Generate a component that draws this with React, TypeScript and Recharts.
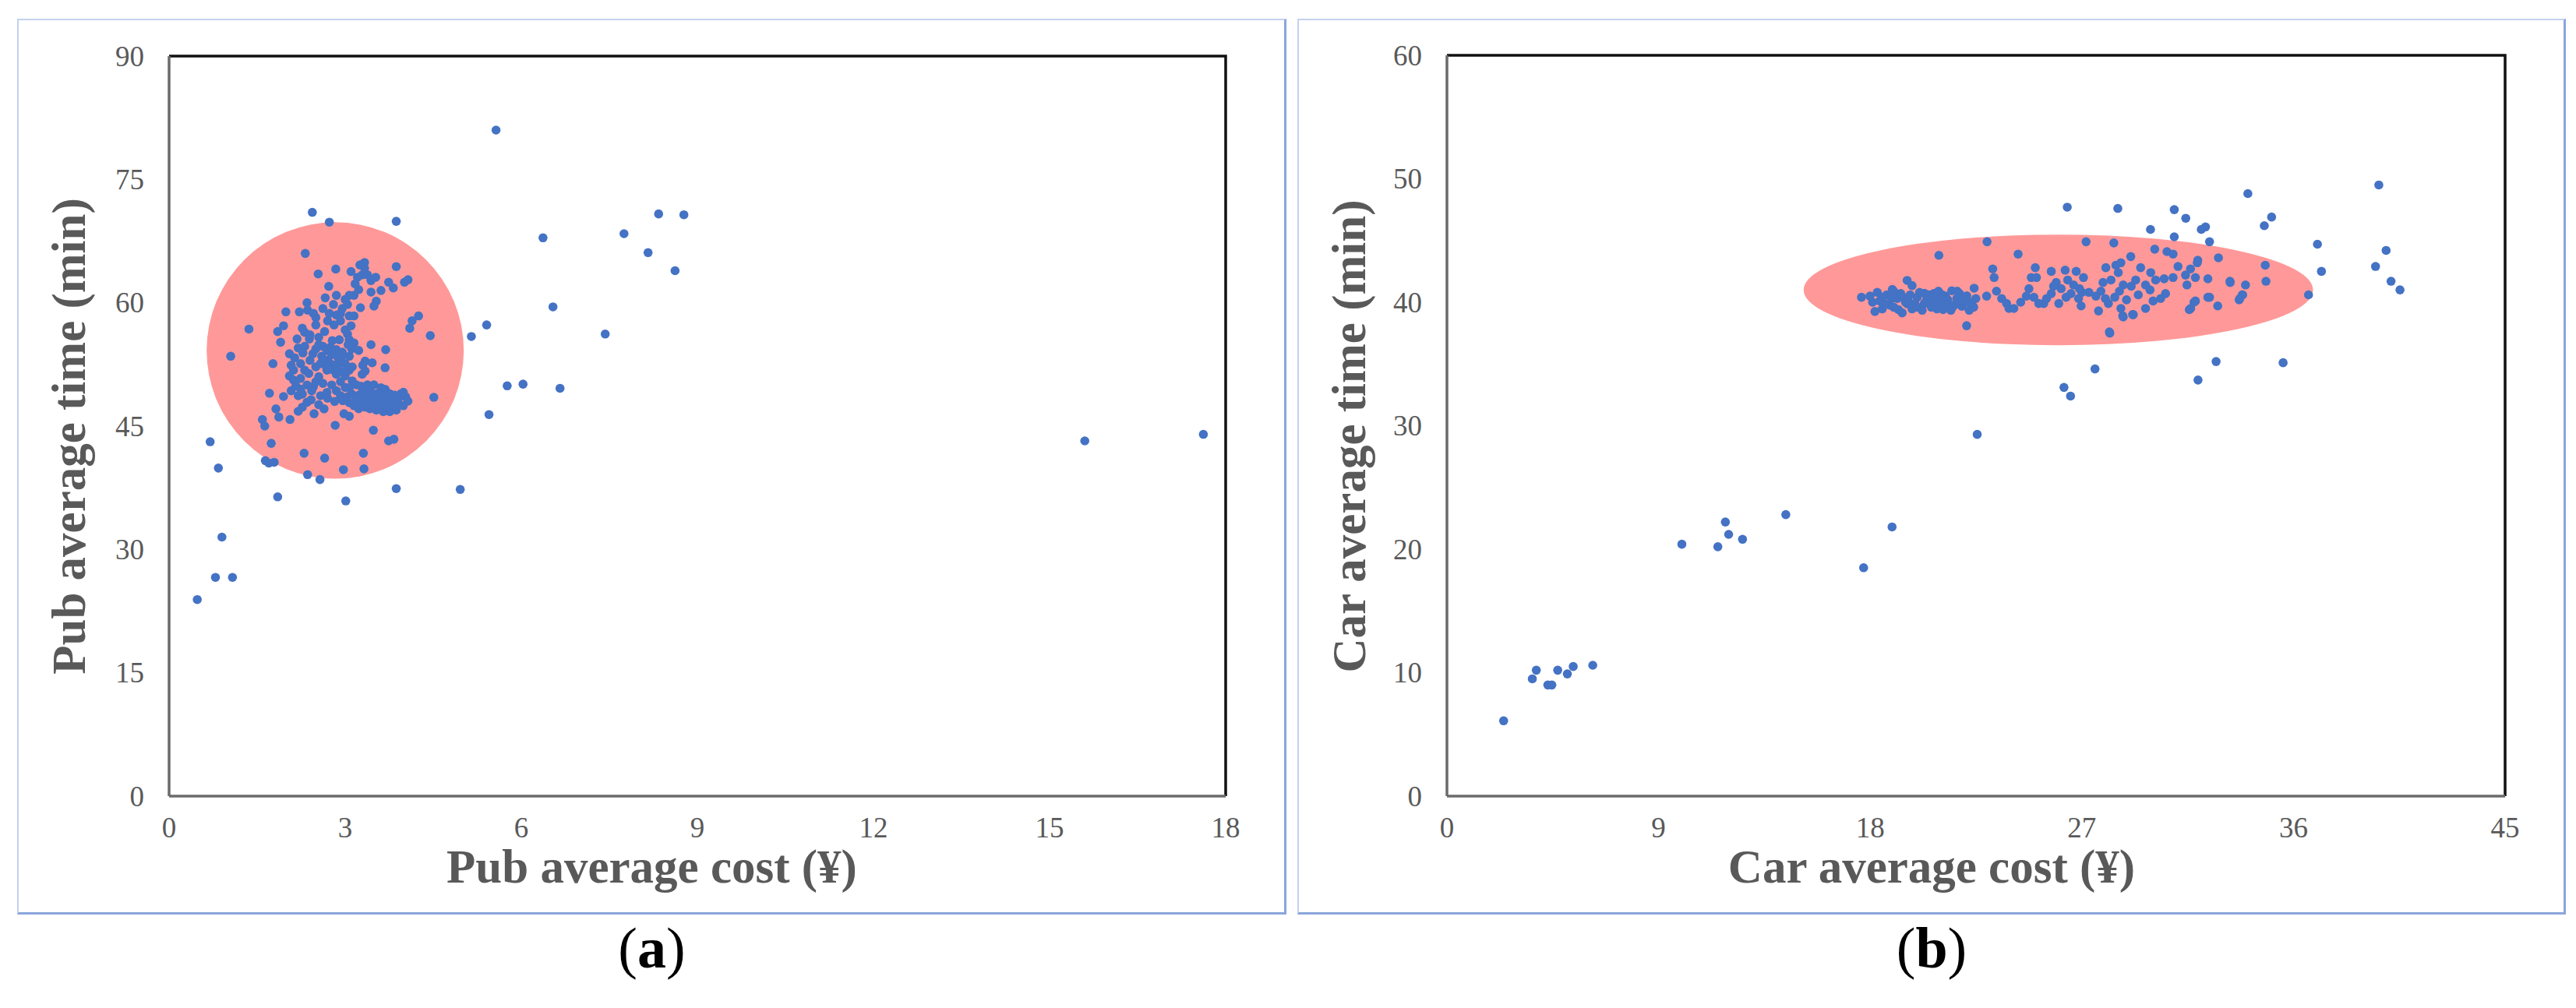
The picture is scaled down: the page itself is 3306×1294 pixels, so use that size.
import React from "react";
import { ScatterChart, Scatter, XAxis, YAxis, ReferenceArea } from "recharts";

// Values (cost in yuan, time in minutes).

const pubCostTicks = [0, 3, 6, 9, 12, 15, 18];
const pubTimeTicks = [0, 15, 30, 45, 60, 75, 90];
const carCostTicks = [0, 9, 18, 27, 36, 45];
const carTimeTicks = [0, 10, 20, 30, 40, 50, 60];

// (a) public transport
const pubOutliers: [number, number][] = [
  [5.57, 81.0], [2.44, 71.0], [2.73, 69.8], [3.87, 69.9], [8.34, 70.8], [8.77, 70.7],
  [6.37, 67.9], [7.75, 68.4], [8.16, 66.1], [8.62, 63.9], [6.54, 59.5], [5.41, 57.3],
  [5.15, 55.9], [7.43, 56.2], [5.76, 49.9], [6.03, 50.1], [6.66, 49.6], [5.45, 46.4],
  [4.51, 48.5], [4.45, 56.0], [0.7, 43.1], [0.84, 39.9], [0.9, 31.5], [0.79, 26.6],
  [1.08, 26.6], [0.48, 23.9], [1.85, 36.4], [3.01, 35.9], [3.87, 37.4], [4.96, 37.3],
  [15.6, 43.2], [17.62, 44.0],
];

const pubEdge: [number, number][] = [
  [4.25, 58.4], [4.14, 57.8], [4.1, 56.9], [1.05, 53.5], [1.36, 56.8], [1.77, 52.6],
  [1.74, 42.9], [1.59, 45.8], [1.63, 45.0], [1.71, 49.0], [1.82, 47.1], [1.87, 46.1],
  [2.06, 45.8], [1.95, 48.6], [1.64, 40.8], [1.7, 40.5], [1.79, 40.6], [2.3, 41.7],
  [2.65, 41.1], [3.31, 41.7], [2.36, 39.1], [2.57, 38.5], [2.97, 39.7], [3.32, 39.8],
  [2.83, 45.1], [3.48, 44.5], [3.74, 43.2], [3.83, 43.4], [2.32, 66.0], [2.54, 63.5],
  [2.84, 64.1], [2.72, 62.0], [3.87, 64.4],
];

const pubCore: [number, number][] = [
  [3.33, 64.9], [3.33, 64.2], [3.29, 63.4], [3.21, 63.1], [3.17, 62.3], [3.23, 61.6],
  [3.15, 60.9], [3.52, 63.1], [3.44, 62.7], [3.74, 62.5], [3.82, 61.8], [4.01, 62.5],
  [4.07, 62.8], [3.61, 61.5], [3.44, 61.3], [3.53, 60.2], [3.49, 59.6], [2.85, 60.9],
  [2.66, 60.6], [3.0, 60.4], [3.07, 60.9], [3.04, 59.8], [3.26, 59.4], [2.35, 60.0],
  [2.36, 59.1], [2.22, 58.9], [1.99, 58.9], [2.5, 58.2], [2.46, 58.7], [2.73, 58.7],
  [2.85, 58.5], [2.92, 58.7], [3.07, 58.4], [3.15, 58.4], [2.81, 57.3], [2.92, 57.8],
  [3.0, 56.7], [3.04, 56.2], [2.27, 56.9], [2.31, 56.4], [1.95, 57.2], [1.85, 56.5],
  [1.9, 55.2], [2.39, 55.6], [3.07, 55.5], [3.15, 55.1], [3.11, 54.4], [3.44, 54.9],
  [3.69, 54.3], [2.2, 54.5], [2.31, 54.7], [2.5, 54.4], [2.62, 54.7], [2.69, 54.2],
  [2.77, 53.7], [2.88, 53.3], [2.92, 52.9], [2.73, 52.7], [2.81, 52.4], [3.0, 52.6],
  [3.07, 53.5], [3.23, 54.2], [3.34, 52.9], [3.46, 52.7], [3.3, 52.4], [3.68, 52.1],
  [2.14, 53.3], [2.08, 52.4], [2.12, 51.8], [2.05, 51.1], [2.24, 52.6], [2.31, 51.8],
  [2.5, 52.2], [2.69, 51.8], [2.85, 51.3], [3.0, 51.1], [3.07, 51.8], [3.29, 51.3],
  [3.34, 51.7], [2.12, 50.6], [2.24, 50.8], [2.35, 50.0], [2.46, 49.8], [2.5, 50.4],
  [2.77, 50.0], [2.92, 50.4], [3.0, 49.7], [2.08, 49.3], [2.2, 48.7], [2.24, 49.5],
  [2.27, 48.9], [2.43, 49.3], [2.58, 48.7], [2.69, 49.1], [2.85, 49.3], [2.92, 48.7],
  [2.64, 47.1], [2.27, 47.3], [2.35, 47.9], [2.98, 46.5], [3.07, 46.2], [2.6, 53.5],
  [2.7, 53.0], [2.95, 54.0], [2.55, 55.8], [2.65, 56.5], [2.9, 55.5], [3.1, 57.2],
  [2.4, 53.0], [2.55, 51.0], [2.8, 51.8], [2.45, 53.8], [2.55, 54.9], [2.62, 53.1],
  [2.75, 54.6], [2.85, 54.3], [2.95, 53.6], [3.05, 54.9], [2.78, 55.4], [2.68, 52.2],
  [2.58, 52.6], [2.88, 52.0], [2.98, 51.6], [3.12, 52.2], [2.5, 57.3], [2.7, 57.8],
  [2.62, 59.3], [2.95, 59.3], [2.8, 59.8], [3.1, 63.8], [3.25, 64.6], [3.38, 63.4],
  [2.4, 56.1], [2.18, 55.6], [2.28, 53.9], [2.38, 51.4], [2.62, 50.2], [2.7, 48.4],
  [2.82, 48.0], [2.96, 48.1], [3.12, 50.5], [2.05, 53.8], [2.16, 49.9], [2.42, 48.2],
  [2.55, 47.6], [2.47, 46.5], [2.2, 46.8],
];

// the dense clump right-below the centre of the circle
const pubClump: [number, number][] = [
  [3.07, 49.66], [3.19, 50.02], [3.27, 49.84], [3.38, 50.02], [3.49, 50.02], [3.61, 49.66],
  [3.68, 49.48], [3.76, 48.93], [3.84, 48.75], [3.95, 48.93], [3.99, 49.11], [4.03, 48.57],
  [4.07, 48.03], [3.99, 47.48], [3.87, 46.94], [3.76, 46.76], [3.65, 46.76], [3.53, 46.94],
  [3.42, 47.12], [3.34, 47.3], [3.23, 47.12], [3.15, 47.48], [3.07, 47.85], [3.04, 48.57],
  [3.11, 48.93], [3.23, 48.75], [3.34, 48.57], [3.46, 48.39], [3.57, 48.21], [3.68, 48.03],
  [3.8, 47.85], [3.91, 47.66], [3.27, 48.03], [3.38, 47.85], [3.49, 47.66], [3.61, 47.48],
  [3.72, 47.3], [3.84, 47.3], [3.19, 48.21], [3.42, 49.3], [3.53, 48.93], [3.65, 48.75],
  [3.78, 48.39], [3.9, 48.21], [3.3, 49.3],
];

// (b) car
const carLow: [number, number][] = [
  [2.41, 6.1], [3.63, 9.5], [3.8, 10.2], [4.29, 9.0], [4.46, 9.0], [4.71, 10.2],
  [5.12, 9.9], [5.37, 10.5], [6.2, 10.6],
];

const carMid: [number, number][] = [
  [9.99, 20.4], [11.52, 20.2], [11.84, 22.2], [11.98, 21.2], [12.57, 20.8], [14.41, 22.8],
  [17.72, 18.5], [18.93, 21.8], [22.55, 29.3], [26.24, 33.1], [26.52, 32.4], [27.56, 34.6],
  [31.94, 33.7], [32.71, 35.2], [35.56, 35.1],
];

const carUpper: [number, number][] = [
  [36.64, 40.6], [37.02, 44.7], [37.19, 42.5], [39.63, 49.5], [39.49, 42.9], [39.94, 44.2],
  [40.15, 41.7], [40.53, 41.0], [34.06, 48.8], [34.76, 46.2], [35.07, 46.9], [34.8, 43.0],
  [34.83, 41.7], [26.38, 47.7], [28.53, 47.6], [30.93, 47.5], [31.42, 46.8], [29.92, 45.9],
  [30.93, 45.3], [32.08, 45.9], [32.26, 46.1], [32.43, 44.9], [22.97, 44.9], [27.18, 44.9],
  [28.36, 44.8], [20.92, 43.8], [24.29, 43.9], [32.81, 43.6], [30.1, 44.3], [30.62, 44.1],
  [33.3, 41.7], [33.96, 41.4], [33.72, 40.3], [33.82, 40.6], [32.78, 39.7], [32.43, 40.4],
  [31.63, 39.5], [31.77, 40.0], [31.91, 43.2], [28.19, 37.5], [28.74, 38.9], [29.16, 39.0],
  [22.1, 38.1],
];

const carBand: [number, number][] = [
  [17.63, 40.4], [17.99, 40.5], [18.2, 39.25], [18.51, 39.46], [18.83, 39.77], [18.94, 41.03],
  [19.15, 40.3], [19.36, 39.14], [19.57, 41.77], [19.57, 39.88], [19.78, 41.35], [19.78, 39.46],
  [20.0, 40.4], [20.21, 39.35], [20.31, 40.72], [20.52, 39.88], [20.73, 40.3], [20.84, 39.46],
  [21.05, 40.61], [21.26, 39.88], [21.43, 39.35], [21.47, 40.93], [21.68, 40.3], [21.9, 39.67],
  [22.11, 40.51], [22.21, 39.35], [22.32, 39.88], [22.42, 41.14], [22.49, 40.3], [18.4, 40.1],
  [18.7, 40.6], [19.0, 39.6], [19.3, 40.7], [19.5, 40.0], [19.9, 39.9], [20.1, 40.8],
  [20.4, 40.2], [20.6, 39.6], [21.0, 40.0], [21.2, 40.5], [21.6, 39.8], [21.8, 40.7],
  [22.0, 40.0], [18.3, 40.8], [19.0, 40.9], [20.9, 40.9], [18.1, 40.0], [18.6, 39.9],
  [18.9, 40.3], [19.2, 39.4], [19.4, 40.4], [19.7, 40.6], [20.0, 39.6], [20.3, 39.9],
  [20.5, 40.6], [20.8, 40.1], [21.1, 39.4], [21.3, 40.2], [21.5, 39.6], [21.7, 40.9],
  [22.2, 40.0], [22.4, 39.6], [19.6, 40.2], [20.7, 40.7], [21.9, 40.2], [18.5, 40.4],
];

const carSpread: [number, number][] = [
  [23.21, 42.7], [23.27, 42.0], [22.95, 40.5], [23.37, 40.9], [23.59, 40.3], [23.8, 39.9],
  [23.9, 39.5], [24.11, 39.5], [24.85, 42.0], [25.07, 42.0], [25.02, 42.8], [24.75, 41.1],
  [24.96, 40.4], [25.17, 39.9], [25.38, 39.9], [24.64, 40.5], [25.7, 42.5], [26.29, 42.6],
  [26.76, 42.5], [27.07, 42.0], [25.91, 41.6], [26.12, 41.1], [26.54, 40.7], [26.86, 40.3],
  [25.7, 40.7], [26.02, 39.9], [26.33, 40.4], [26.97, 39.7], [26.65, 41.4], [28.02, 42.8],
  [28.45, 43.0], [28.66, 43.2], [28.55, 42.4], [27.81, 40.9], [28.24, 41.8], [28.76, 41.4],
  [29.08, 43.7], [29.29, 41.8], [27.6, 40.5], [27.71, 39.3], [28.13, 39.9], [28.66, 39.5],
  [28.76, 38.8], [29.19, 39.0], [29.5, 42.8], [29.93, 42.4], [29.71, 41.4], [30.14, 41.8],
  [30.56, 40.7], [30.35, 40.3], [30.03, 40.1], [29.71, 39.5], [28.17, 37.6], [30.88, 43.9],
  [31.93, 43.4], [31.09, 42.9], [31.62, 42.7], [31.41, 42.2], [31.83, 42.0], [32.36, 41.9],
  [30.88, 42.0], [31.47, 41.4], [33.31, 41.6], [31.83, 40.1], [32.36, 40.4], [33.69, 40.2],
  [33.84, 40.6], [31.57, 39.4], [24.4, 40.0], [25.5, 40.3], [26.4, 41.8], [27.3, 40.8],
  [27.9, 41.6], [28.4, 40.4], [28.9, 40.2], [29.4, 40.6], [29.9, 41.0], [30.5, 41.9],
  [27.0, 40.8], [28.0, 40.3], [28.6, 40.9], [29.1, 41.3], [25.8, 41.3], [26.9, 41.1],
];

// highlighted regions, in data units: centre and half-extent
const pubHighlight = { cx: 2.83, cy: 54.2, rx: 2.19, ry: 15.6 };
const carHighlight = { cx: 26.0, cy: 41.0, rx: 10.83, ry: 4.48 };

const toPoints = (...groups: [number, number][][]) =>
  groups.flat().map(([x, y]) => ({ x, y }));

const SERIF = "'Liberation Serif', 'Times New Roman', serif";
const TEXT_GREY = "#595959";
const DOT_BLUE = "#4472c4";
const HIGHLIGHT = "#ff9999";

const XTick = (props: any) => (
  <text x={props.x} y={props.y + 53} textAnchor="middle" fill={TEXT_GREY} fontSize={37} fontFamily={SERIF}>
    {props.payload.value}
  </text>
);

const YTick = (props: any) => (
  <text x={props.x - 32} y={props.y + 12.5} textAnchor="end" fill={TEXT_GREY} fontSize={37} fontFamily={SERIF}>
    {props.payload.value}
  </text>
);

const Dot = (props: any) => <circle cx={props.cx} cy={props.cy} r={5.8} fill={DOT_BLUE} />;

const Ellipse = (props: any) => (
  <ellipse
    cx={props.x + props.width / 2}
    cy={props.y + props.height / 2}
    rx={Math.abs(props.width) / 2}
    ry={Math.abs(props.height) / 2}
    fill={HIGHLIGHT}
  />
);

// top and right edges of the plot frame (left/bottom come from the axes)
const FrameEdges = (props: any) => (
  <path
    d={`M${props.x},${props.y}H${props.x + props.width}V${props.y + props.height}`}
    fill="none"
    stroke="#111"
    strokeWidth={3.5}
  />
);

type Box = { left: number; top: number; width: number; height: number };
type Plot = { left: number; top: number; right: number; bottom: number };

function Panel({
  box,
  plot,
  xDomain,
  yDomain,
  xTicks,
  yTicks,
  points,
  highlight,
  xTitle,
  yTitle,
  tag,
}: {
  box: Box;
  plot: Plot;
  xDomain: [number, number];
  yDomain: [number, number];
  xTicks: number[];
  yTicks: number[];
  points: { x: number; y: number }[];
  highlight: { cx: number; cy: number; rx: number; ry: number };
  xTitle: string;
  yTitle: string;
  tag: string;
}) {
  const yAxisWidth = plot.left - box.left;
  const xAxisHeight = box.top + box.height - plot.bottom;
  const margin = { top: plot.top - box.top, right: box.left + box.width - plot.right, bottom: 0, left: 0 };
  const axis = { stroke: "#6b6b6b", strokeWidth: 3.5 };
  const titleStyle: React.CSSProperties = {
    position: "absolute",
    fontFamily: SERIF,
    fontWeight: 700,
    fontSize: 61,
    lineHeight: "62px",
    color: TEXT_GREY,
    textAlign: "center",
    whiteSpace: "nowrap",
  };
  const yTitleX = box.left + 67;
  const yTitleY = 560;

  return (
    <>
      <div
        style={{
          position: "absolute",
          left: box.left,
          top: box.top,
          width: box.width,
          height: box.height,
          boxSizing: "border-box",
          borderTop: "2px solid #c3d1ee",
          borderLeft: "2px solid #c3d1ee",
          borderRight: "3px solid #8aa5dc",
          borderBottom: "3px solid #8aa5dc",
        }}
      />
      <div style={{ position: "absolute", left: box.left, top: box.top }}>
        <ScatterChart width={box.width} height={box.height} margin={margin}>
          <XAxis
            type="number"
            dataKey="x"
            domain={xDomain}
            ticks={xTicks}
            interval={0}
            height={xAxisHeight}
            tickSize={0}
            tickMargin={0}
            tickLine={false}
            axisLine={axis}
            tick={<XTick />}
          />
          <YAxis
            type="number"
            dataKey="y"
            domain={yDomain}
            ticks={yTicks}
            interval={0}
            width={yAxisWidth}
            tickSize={0}
            tickMargin={0}
            tickLine={false}
            axisLine={axis}
            tick={<YTick />}
          />
          <ReferenceArea
            x1={xDomain[0]}
            x2={xDomain[1]}
            y1={yDomain[0]}
            y2={yDomain[1]}
            ifOverflow="visible"
            shape={FrameEdges}
          />
          <ReferenceArea
            x1={highlight.cx - highlight.rx}
            x2={highlight.cx + highlight.rx}
            y1={highlight.cy - highlight.ry}
            y2={highlight.cy + highlight.ry}
            ifOverflow="visible"
            shape={Ellipse}
          />
          <Scatter data={points} fill={DOT_BLUE} shape={Dot} isAnimationActive={false} />
        </ScatterChart>
      </div>
      <div style={{ ...titleStyle, left: box.left, width: box.width, top: 1082 }}>{xTitle}</div>
      <div
        style={{
          ...titleStyle,
          left: yTitleX - 500,
          width: 1000,
          top: yTitleY - 31,
          transform: "rotate(-90deg)",
          transformOrigin: "50% 50%",
        }}
      >
        {yTitle}
      </div>
      <div
        style={{
          position: "absolute",
          left: box.left,
          width: box.width,
          top: 1180,
          textAlign: "center",
          fontFamily: SERIF,
          fontSize: 74,
          lineHeight: "74px",
          color: "#000",
        }}
      >
        (<b>{tag}</b>)
      </div>
    </>
  );
}

export default function App() {
  return (
    <div style={{ position: "absolute", left: 0, top: 0, width: 3306, height: 1294, background: "#fff", overflow: "hidden" }}>
      <Panel
        box={{ left: 22, top: 24, width: 1629, height: 1150 }}
        plot={{ left: 217, top: 72, right: 1573, bottom: 1022 }}
        xDomain={[0, 18]}
        yDomain={[0, 90]}
        xTicks={pubCostTicks}
        yTicks={pubTimeTicks}
        points={toPoints(pubOutliers, pubEdge, pubCore, pubClump)}
        highlight={pubHighlight}
        xTitle="Pub average cost (¥)"
        yTitle="Pub average time (min)"
        tag="a"
      />
      <Panel
        box={{ left: 1665, top: 24, width: 1628, height: 1150 }}
        plot={{ left: 1857, top: 71, right: 3215, bottom: 1022 }}
        xDomain={[0, 45]}
        yDomain={[0, 60]}
        xTicks={carCostTicks}
        yTicks={carTimeTicks}
        points={toPoints(carLow, carMid, carUpper, carBand, carSpread)}
        highlight={carHighlight}
        xTitle="Car average cost (¥)"
        yTitle="Car average time (min)"
        tag="b"
      />
    </div>
  );
}
